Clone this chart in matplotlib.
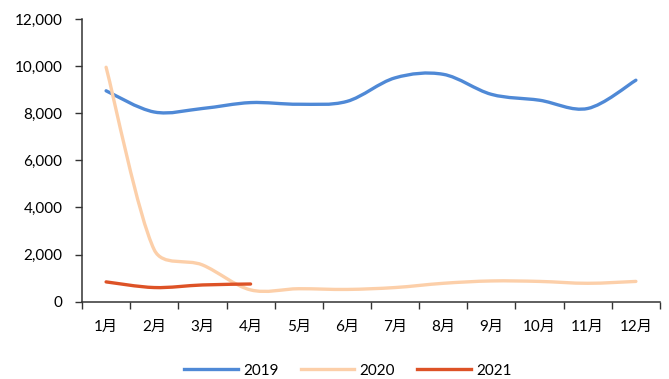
import matplotlib
matplotlib.use("Agg")
import matplotlib.pyplot as plt
from matplotlib.path import Path
from matplotlib.patches import PathPatch
from matplotlib.lines import Line2D
from matplotlib.ticker import FuncFormatter, FixedLocator
import numpy as np

months = ['1月', '2月', '3月', '4月', '5月', '6月', '7月', '8月', '9月', '10月', '11月', '12月']
sales_2019 = [8950, 8050, 8200, 8450, 8380, 8500, 9500, 9650, 8800, 8550, 8200, 9400]
sales_2020 = [9950, 2200, 1560, 500, 550, 520, 600, 780, 880, 860, 780, 860]
sales_2021 = [840, 600, 710, 750]

colors = {'2019': '#4F89D6', '2020': '#FCCFA9', '2021': '#DD5226'}

plt.rcParams['font.family'] = ['Lato', 'Noto Sans CJK SC', 'DejaVu Sans']


def smooth_path(ax, xs, ys, clip=0.38):
    # smoothed line as cubic Bezier segments, built in pixel space so the
    # control arms can be kept short on short segments (no big overshoot)
    pts = ax.transData.transform(np.column_stack([xs, ys]))
    n = len(pts)
    verts = [pts[0]]
    codes = [Path.MOVETO]
    for i in range(n - 1):
        p0, p1 = pts[max(i - 1, 0)], pts[i]
        p2, p3 = pts[i + 1], pts[min(i + 2, n - 1)]
        seg = np.hypot(*(p2 - p1))
        t1 = (p2 - p0) / 6
        t2 = (p3 - p1) / 6
        for t in (t1, t2):
            L = np.hypot(*t)
            if L > clip * seg:
                t *= clip * seg / L
        verts += [p1 + t1, p2 - t2, p2]
        codes += [Path.CURVE4] * 3
    verts = ax.transData.inverted().transform(np.array(verts))
    return Path(verts, codes)


fig = plt.figure(figsize=(6.69, 3.79), dpi=100)
ax = fig.add_axes([0.1226, 0.204, 0.8639, 0.746])
ax.set_xlim(-0.5, 11.5)
ax.set_ylim(0, 12000)

series = [('2019', sales_2019), ('2020', sales_2020), ('2021', sales_2021)]
for name, vals in series:
    x = np.arange(len(vals))
    patch = PathPatch(smooth_path(ax, x, vals), facecolor='none', edgecolor=colors[name],
                      lw=2.4, capstyle='round', joinstyle='round')
    ax.add_patch(patch)

ax.set_yticks(np.arange(0, 12001, 2000))
ax.yaxis.set_major_formatter(FuncFormatter(lambda v, p: f'{int(v):,}'))

ax.set_xticks(np.arange(12))
ax.set_xticklabels(months)
ax.xaxis.set_minor_locator(FixedLocator(np.arange(-0.5, 12, 1)))
ax.tick_params(axis='x', which='major', length=0, pad=13, labelsize=11)
ax.tick_params(axis='x', which='minor', length=5, width=1, color='#333333')
ax.tick_params(axis='y', which='major', length=5, width=1, color='#333333', pad=9, labelsize=11)

for side in ['top', 'right']:
    ax.spines[side].set_visible(False)
for side in ['left', 'bottom']:
    ax.spines[side].set_color('#333333')
    ax.spines[side].set_linewidth(1.1)

handles = [Line2D([], [], color=colors[n], lw=2.4) for n, _ in series]
fig.legend(handles, [n for n, _ in series], loc='center', bbox_to_anchor=(0.52, 0.022),
           ncol=3, frameon=False, handlelength=3.5, handletextpad=0.35,
           columnspacing=1.45, fontsize=11)

fig.savefig('out.png', dpi=100)
